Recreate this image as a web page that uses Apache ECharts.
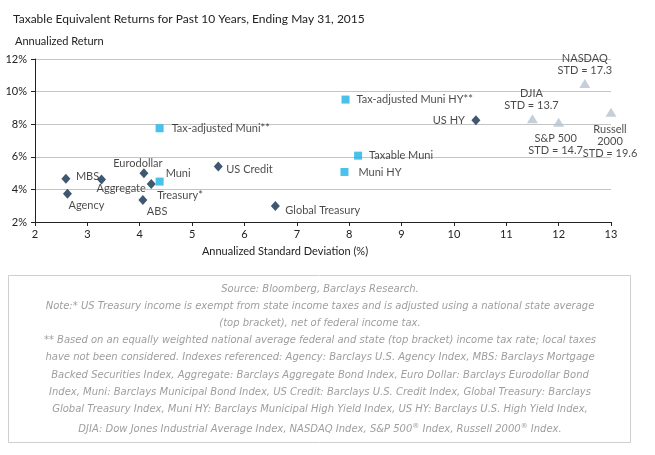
<!DOCTYPE html>
<html>
<head>
<meta charset="utf-8">
<script src="https://cdn.jsdelivr.net/npm/echarts@6/dist/echarts.min.js"></script>
<style>
  html, body { margin: 0; padding: 0; background: #fff; }
  #chart { width: 655px; height: 455px; }
</style>
</head>
<body>
<div id="chart"></div>
<script>
// 债券指数（深蓝菱形）
const bondNames = ['MBS', 'Agency', 'Aggregate', 'Eurodollar', 'Treasury*', 'ABS', 'US Credit', 'Global Treasury', 'US HY'];
const bondStd = [2.59, 2.62, 3.27, 4.08, 4.22, 4.06, 5.5, 6.59, 10.42];
const bondReturn = [4.66, 3.74, 4.60, 4.99, 4.33, 3.35, 5.40, 2.98, 8.24];

// 市政债（浅蓝方块）
const muniNames = ['Muni', 'Tax-adjusted Muni**', 'Tax-adjusted Muni HY**', 'Taxable Muni', 'Muni HY'];
const muniStd = [4.38, 4.38, 7.93, 8.17, 7.91];
const muniReturn = [4.48, 7.75, 9.51, 6.07, 5.07];

// 股票指数（灰色三角），横轴封顶于 13，真实标准差写在标签里
const equityNames = ['DJIA', 'S&P 500', 'NASDAQ', 'Russell\n2000'];
const equityStd = [11.5, 12.0, 12.5, 13.0];
const equityReturn = [8.34, 8.12, 10.49, 8.73];
const equityActualStd = ['13.7', '14.7', '17.3', '19.6'];

const xTicks = [2, 13];
const yTicks = [2, 4, 6, 8, 10, 12];

const footnotes = [
  'Source: Bloomberg, Barclays Research.',
  'Note:* US Treasury income is exempt from state income taxes and is adjusted using a national state average',
  '(top bracket), net of federal income tax.',
  '** Based on an equally weighted national average federal and state (top bracket) income tax rate; local taxes',
  'have not been considered. Indexes referenced: Agency: Barclays U.S. Agency Index, MBS: Barclays Mortgage',
  'Backed Securities Index, Aggregate: Barclays Aggregate Bond Index, Euro Dollar: Barclays Eurodollar Bond',
  'Index, Muni: Barclays Municipal Bond Index, US Credit: Barclays U.S. Credit Index, Global Treasury: Barclays',
  'Global Treasury Index, Muni HY: Barclays Municipal High Yield Index, US HY: Barclays U.S. High Yield Index,',
  'DJIA: Dow Jones Industrial Average Index, NASDAQ Index, S&P 500{sup|®} Index, Russell 2000{sup|®} Index.'
];

// 标签摆放：[对齐, dx, dy]（相对点中心）
const labelPlace = {
  'MBS': ['left', 10, -2],
  'Agency': ['left', 1, 12],
  'Aggregate': ['left', -5, 9],
  'Eurodollar': ['center', -6, -10],
  'Treasury*': ['left', 6, 11],
  'ABS': ['left', 4, 11],
  'US Credit': ['left', 8, 3],
  'Global Treasury': ['left', 10, 4],
  'US HY': ['right', -11, 0],
  'Muni': ['left', 6, -8],
  'Tax-adjusted Muni**': ['left', 12, 0],
  'Tax-adjusted Muni HY**': ['left', 11, 0],
  'Taxable Muni': ['left', 11, 0],
  'Muni HY': ['left', 14, 0],
  'DJIA': ['center', -1, -19],
  'S&P 500': ['center', -3, 22],
  'NASDAQ': ['center', 0, -19],
  'Russell\n2000': ['center', -1, 29]
};

const FONT = 'Lato';

function points(names, xs, ys, texts) {
  return names.map((n, i) => {
    const p = labelPlace[n];
    return {
      name: n,
      value: [xs[i], ys[i]],
      label: {
        align: p[0],
        offset: [p[1], p[2]],
        formatter: texts ? n + '\nSTD = ' + texts[i] : n
      }
    };
  });
}

const baseLabel = {
  show: true,
  position: 'inside',
  verticalAlign: 'middle',
  color: '#1a1a1a',
  fontFamily: FONT,
  fontSize: 11,
  lineHeight: 12
};

const chart = echarts.init(document.getElementById('chart'), null, { renderer: 'canvas' });

chart.setOption({
  animation: false,
  title: {
    text: 'Taxable Equivalent Returns for Past 10 Years, Ending May 31, 2015',
    left: 8,
    top: 8,
    textStyle: { fontFamily: FONT, fontSize: 12, fontWeight: 'normal', color: '#222' }
  },
  grid: { left: 35, right: 44, top: 59, bottom: 233 },
  xAxis: {
    type: 'value',
    min: xTicks[0],
    max: xTicks[1],
    interval: 1,
    axisLine: { lineStyle: { color: '#222', width: 1 } },
    axisTick: { show: true, length: 4, lineStyle: { color: '#222' } },
    axisLabel: { color: '#222', fontFamily: FONT, fontSize: 11, margin: 7 },
    splitLine: { show: false }
  },
  yAxis: {
    type: 'value',
    min: yTicks[0],
    max: yTicks[yTicks.length - 1],
    interval: 2,
    axisLine: { show: true, lineStyle: { color: '#222', width: 1 } },
    axisTick: { show: true, length: 4, lineStyle: { color: '#222' } },
    axisLabel: { color: '#222', fontFamily: FONT, fontSize: 11, margin: 8, formatter: '{value}%' },
    splitLine: { show: true, lineStyle: { color: '#c4c4c4', width: 1 } }
  },
  graphic: [
    {
      type: 'text', left: 15, top: 36,
      style: { text: 'Annualized Return', font: '11px ' + FONT, fill: '#222' }
    },
    {
      type: 'text', x: 285, y: 251,
      style: { text: 'Annualized Standard Deviation (%)', font: '11px ' + FONT, fill: '#222', textAlign: 'center', textVerticalAlign: 'middle' }
    },
    {
      type: 'rect',
      shape: { x: 8.5, y: 275.5, width: 622, height: 167 },
      style: { fill: 'none', stroke: '#cfcfcf', lineWidth: 1 }
    }
  ].concat(footnotes.map((t, i) => ({
    type: 'text',
    x: 320,
    y: 289 + i * 17.2 + (i === footnotes.length - 1 ? 3 : 0),
    style: {
      text: t,
      font: 'italic 10px "DejaVu Sans"',
      fill: '#9e9e9e',
      textAlign: 'center',
      textVerticalAlign: 'middle',
      rich: { sup: { fontSize: 7, fontStyle: 'italic', fontFamily: 'DejaVu Sans', fill: '#9e9e9e', padding: [0, 0, 7, 0] } }
    }
  }))),
  series: [
    {
      type: 'scatter',
      symbol: 'diamond',
      symbolSize: [9, 10],
      itemStyle: { color: '#0f2d4c' },
      label: baseLabel,
      data: points(bondNames, bondStd, bondReturn)
    },
    {
      type: 'scatter',
      symbol: 'rect',
      symbolSize: 8,
      itemStyle: { color: '#1bb1e6' },
      label: baseLabel,
      data: points(muniNames, muniStd, muniReturn)
    },
    {
      type: 'scatter',
      symbol: 'triangle',
      symbolSize: [11, 9],
      itemStyle: { color: '#b6c3cf' },
      label: baseLabel,
      data: points(equityNames, equityStd, equityReturn, equityActualStd)
    }
  ]
});
</script>
</body>
</html>
